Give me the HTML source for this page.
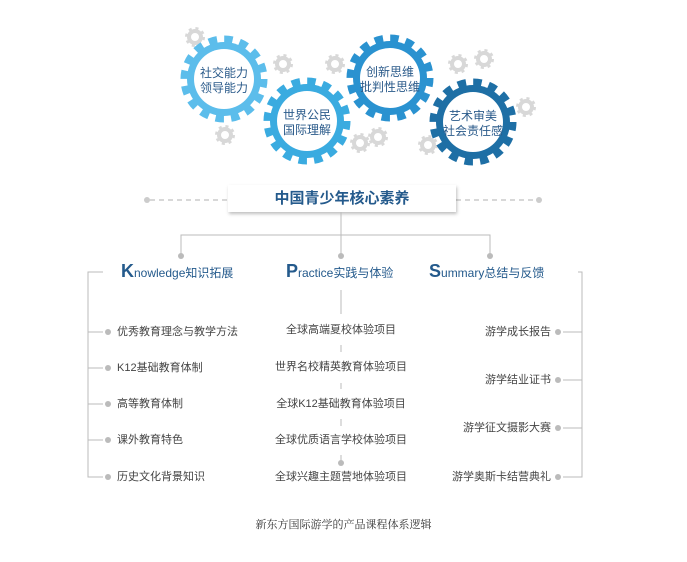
<!DOCTYPE html>
<html><head><meta charset="utf-8"><style>
body{margin:0;width:687px;height:562px;background:#fff;position:relative;overflow:hidden;font-family:"Liberation Sans","Noto Sans CJK SC",sans-serif;}
.t{position:absolute;font-size:11px;color:#444;white-space:nowrap;line-height:14px}
.h{position:absolute;font-size:12px;color:#245a8c;white-space:nowrap;line-height:18px}
.h b{font-size:18px;font-weight:bold}
</style></head><body>
<svg width="687" height="562" style="position:absolute;left:0;top:0">
<defs>
<g id="sg"><circle r="6" fill="none" stroke="#d8d8d8" stroke-width="4"/><circle r="8.5" fill="none" stroke="#d8d8d8" stroke-width="3" stroke-dasharray="3 3.7"/></g>
<filter id="sh" x="-10%" y="-30%" width="120%" height="170%"><feDropShadow dx="1" dy="2" stdDeviation="1.5" flood-color="#000" flood-opacity="0.25"/></filter>
</defs>
<use href="#sg" x="195" y="37"/>
<use href="#sg" x="283" y="64"/>
<use href="#sg" x="225" y="135"/>
<use href="#sg" x="335" y="64"/>
<use href="#sg" x="360" y="143"/>
<use href="#sg" x="378" y="137"/>
<use href="#sg" x="458" y="64"/>
<use href="#sg" x="484" y="59"/>
<use href="#sg" x="428" y="145"/>
<use href="#sg" x="526" y="107"/>
<g transform="translate(224,79)"><circle r="37" fill="#5cbdeb"/><circle r="40" fill="none" stroke="#5cbdeb" stroke-width="7" stroke-dasharray="8.5 7.2"/><circle r="30" fill="#fff"/></g>
<g transform="translate(307,121)"><circle r="37" fill="#3aabe0"/><circle r="40" fill="none" stroke="#3aabe0" stroke-width="7" stroke-dasharray="8.5 7.2"/><circle r="30" fill="#fff"/></g>
<g transform="translate(390,78)"><circle r="37" fill="#2a92d0"/><circle r="40" fill="none" stroke="#2a92d0" stroke-width="7" stroke-dasharray="8.5 7.2"/><circle r="30" fill="#fff"/></g>
<g transform="translate(473,122)"><circle r="37" fill="#1e6fa5"/><circle r="40" fill="none" stroke="#1e6fa5" stroke-width="7" stroke-dasharray="8.5 7.2"/><circle r="30" fill="#fff"/></g>
<g font-size="12" fill="#2a5a8a" text-anchor="middle" font-family="Liberation Sans, Noto Sans CJK SC, sans-serif">
<text x="224" y="77">社交能力</text><text x="224" y="92">领导能力</text>
<text x="307" y="119">世界公民</text><text x="307" y="134">国际理解</text>
<text x="390" y="76">创新思维</text><text x="390" y="91">批判性思维</text>
<text x="473" y="120">艺术审美</text><text x="473" y="135">社会责任感</text>
</g>
<g stroke="#ccc" stroke-width="1.5" stroke-dasharray="5 4"><line x1="150" y1="200" x2="228" y2="200"/><line x1="456" y1="200" x2="536" y2="200"/></g>
<circle cx="147" cy="200" r="3" fill="#ccc"/><circle cx="539" cy="200" r="3" fill="#ccc"/>
<rect x="228" y="185" width="228" height="27" fill="#fff" filter="url(#sh)"/>
<g stroke="#bbb" stroke-width="1" fill="none">
<line x1="341" y1="212" x2="341" y2="255"/>
<polyline points="181,255 181,235 490,235 490,255"/>
<polyline points="103,272 88,272 88,477 103,477"/>
<line x1="88" y1="332" x2="103" y2="332"/><line x1="88" y1="368" x2="103" y2="368"/><line x1="88" y1="404" x2="103" y2="404"/><line x1="88" y1="440" x2="103" y2="440"/>
<polyline points="578,272 582,272 582,477 563,477"/>
<line x1="582" y1="332" x2="563" y2="332"/><line x1="582" y1="380" x2="563" y2="380"/><line x1="582" y1="428" x2="563" y2="428"/>
<line x1="341" y1="290" x2="341" y2="314"/><line x1="341" y1="345" x2="341" y2="352"/><line x1="341" y1="383" x2="341" y2="389"/><line x1="341" y1="419" x2="341" y2="426"/><line x1="341" y1="455" x2="341" y2="463"/>
</g>
<g fill="#bbb"><circle cx="181" cy="256" r="3"/><circle cx="341" cy="256" r="3"/><circle cx="490" cy="256" r="3"/>
<circle cx="108" cy="332" r="3"/><circle cx="108" cy="368" r="3"/><circle cx="108" cy="404" r="3"/><circle cx="108" cy="440" r="3"/><circle cx="108" cy="477" r="3"/>
<circle cx="558" cy="332" r="3"/><circle cx="558" cy="380" r="3"/><circle cx="558" cy="428" r="3"/><circle cx="558" cy="477" r="3"/>
<circle cx="341" cy="463" r="3"/></g>
</svg>
<div style="position:absolute;left:228px;top:185px;width:228px;height:27px;line-height:27px;text-align:center;font-size:15px;font-weight:bold;color:#245a8c">中国青少年核心素养</div>
<div class="h" style="left:121px;top:262px"><b>K</b>nowledge知识拓展</div>
<div class="h" style="left:286px;top:262px"><b>P</b>ractice实践与体验</div>
<div class="h" style="left:429px;top:262px"><b>S</b>ummary总结与反馈</div>
<div class="t" style="left:117px;top:325px">优秀教育理念与教学方法</div>
<div class="t" style="left:117px;top:361px">K12基础教育体制</div>
<div class="t" style="left:117px;top:397px">高等教育体制</div>
<div class="t" style="left:117px;top:433px">课外教育特色</div>
<div class="t" style="left:117px;top:470px">历史文化背景知识</div>
<div class="t" style="left:241px;width:200px;text-align:center;top:323px">全球高端夏校体验项目</div>
<div class="t" style="left:241px;width:200px;text-align:center;top:360px">世界名校精英教育体验项目</div>
<div class="t" style="left:241px;width:200px;text-align:center;top:397px">全球K12基础教育体验项目</div>
<div class="t" style="left:241px;width:200px;text-align:center;top:433px">全球优质语言学校体验项目</div>
<div class="t" style="left:241px;width:200px;text-align:center;top:470px">全球兴趣主题营地体验项目</div>
<div class="t" style="right:136px;top:325px">游学成长报告</div>
<div class="t" style="right:136px;top:373px">游学结业证书</div>
<div class="t" style="right:136px;top:421px">游学征文摄影大赛</div>
<div class="t" style="right:136px;top:470px">游学奥斯卡结营典礼</div>
<div style="position:absolute;left:0;width:687px;top:516px;text-align:center;font-size:11px;color:#333;font-family:'Liberation Serif','Noto Serif CJK SC',serif">新东方国际游学的产品课程体系逻辑</div>
</body></html>
